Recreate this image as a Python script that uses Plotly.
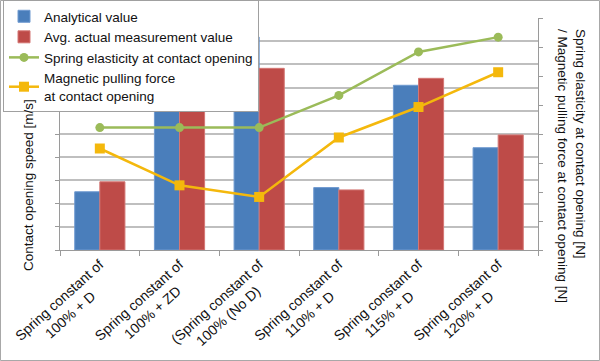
import plotly.graph_objects as go

categories = [
    "Spring constant of<br>100% + D",
    "Spring constant of<br>100% + ZD",
    "(Spring constant of<br>100% (No D)",
    "Spring constant of<br>110% + D",
    "Spring constant of<br>115% + D",
    "Spring constant of<br>120% + D",
]
analytical = [2.51, 8.6, 9.18, 2.69, 7.1, 4.41]
measured = [2.94, 8.6, 7.83, 2.59, 7.4, 4.96]
spring_force = [4.22, 4.22, 4.22, 5.33, 6.83, 7.34]
magnetic_force = [3.50, 2.23, 1.83, 3.88, 4.93, 6.13]

FONT = "Liberation Sans, Arial, sans-serif"
GRID = "#BFBFBF"
AXIS = "#9A9A9A"
TICK_SIZE = 14

# approximate Arial advance widths (em) to centre the second label line
_W = {" ": .278, "%": .889, "+": .584, "(": .333, ")": .333, "D": .722, "Z": .611,
      "N": .722, "S": .667, "f": .278, "i": .222, "r": .333, "t": .278, "s": .5, "c": .5}

def _width(s):
    return sum(_W.get(ch, .556) for ch in s) * TICK_SIZE

def centred(label):
    first, second = label.split("<br>")
    pad = max(0, round((_width(first) - _width(second)) / 2 / (_W[" "] * TICK_SIZE)))
    return first + "<br>" + second + "\u00a0" * pad

tick_text = [centred(c) for c in categories]

fig = go.Figure()
fig.add_trace(go.Bar(x=categories, y=analytical, name="Analytical value",
                     marker=dict(color="#4A7EBB", line=dict(color="#6F9AD0", width=1))))
fig.add_trace(go.Bar(x=categories, y=measured, name="Avg. actual measurement value",
                     marker=dict(color="#BE4B48", line=dict(color="#D47774", width=1))))
fig.add_trace(go.Scatter(x=categories, y=spring_force, name="Spring elasticity at contact opening",
                         yaxis="y2", mode="lines+markers",
                         line=dict(color="#9BBB59", width=2.5),
                         marker=dict(symbol="circle", size=9, color="#9BBB59")))
fig.add_trace(go.Scatter(x=categories, y=magnetic_force,
                         name="Magnetic pulling force<br>at contact opening",
                         yaxis="y2", mode="lines+markers",
                         line=dict(color="#F4B80C", width=2.5),
                         marker=dict(symbol="square", size=10, color="#F4B80C")))

L, R, T, B = 60, 62, 18, 111
W, H = 600, 361
pw, ph = W - L - R, H - T - B

def px(x):
    return (x - L) / pw

def py(y):
    return (H - B - y) / ph

fig.update_layout(
    width=W, height=H,
    margin=dict(l=L, r=R, t=T, b=B, autoexpand=False),
    paper_bgcolor="white", plot_bgcolor="white",
    font=dict(family=FONT, size=13, color="#111"),
    barmode="group", bargap=0.37, bargroupgap=0,
    showlegend=True,
    legend=dict(x=px(3), y=py(0), xanchor="left", yanchor="top",
                bgcolor="white", bordercolor="#A0A0A0", borderwidth=1,
                font=dict(size=13.5, family=FONT), tracegroupgap=0,
                itemwidth=30),
    xaxis=dict(type="category", showgrid=False, showline=True, linecolor=AXIS, linewidth=1,
               ticks="outside", tickson="boundaries", ticklen=5, tickcolor=AXIS,
               tickmode="array", tickvals=categories, ticktext=tick_text,
               tickangle=-42, tickfont=dict(size=TICK_SIZE, family=FONT), automargin=False),
    yaxis=dict(range=[0, 10], dtick=1, showgrid=True, gridcolor=GRID, gridwidth=1.5,
               showline=True, linecolor=AXIS, linewidth=1, ticks="outside", ticklen=4,
               tickcolor=AXIS, showticklabels=False, zeroline=False, automargin=False),
    yaxis2=dict(range=[0, 8], dtick=1, overlaying="y", side="right", showgrid=False,
                showline=True, linecolor=AXIS, linewidth=1, ticks="outside", ticklen=4,
                tickcolor=AXIS, showticklabels=False, zeroline=False, automargin=False),
    annotations=[
        dict(text="Contact opening speed [m/s]", xref="paper", yref="paper",
             x=px(28), y=py(185), xanchor="center", yanchor="middle",
             textangle=-90, showarrow=False, font=dict(size=13.5, family=FONT)),
        dict(text="Spring elasticity at contact opening [N]<br>/ Magnetic pulling force at contact opening [N]",
             xref="paper", yref="paper", x=px(572), y=py(166), xanchor="center", yanchor="middle",
             textangle=90, align="left", showarrow=False, font=dict(size=13.5, family=FONT)),
    ],
    shapes=[dict(type="rect", xref="paper", yref="paper",
                 x0=px(0.5), x1=px(599.5), y0=py(360.5), y1=py(0.5),
                 line=dict(color="#A8A8A8", width=1), layer="below")],
)

fig.write_html("out.html", config={"displayModeBar": False},
               post_script="document.body.style.margin='0';document.body.style.overflow='hidden';")
